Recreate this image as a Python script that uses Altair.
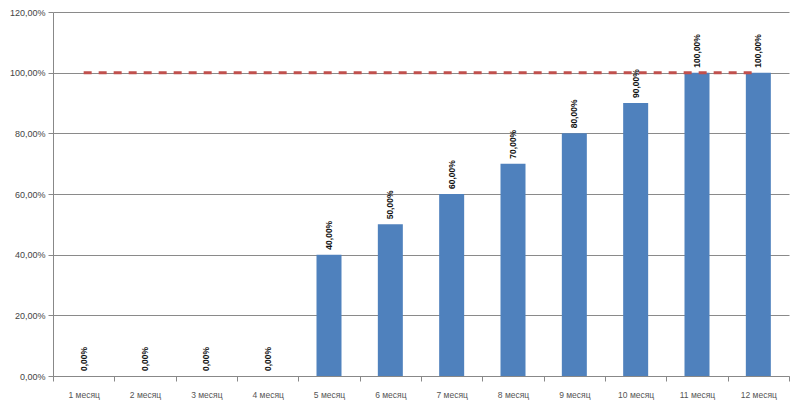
import altair as alt
import pandas as pd

months = ["1 месяц", "2 месяц", "3 месяц", "4 месяц", "5 месяц", "6 месяц",
          "7 месяц", "8 месяц", "9 месяц", "10 месяц", "11 месяц", "12 месяц"]
values = [0.0, 0.0, 0.0, 0.0, 0.40, 0.50, 0.60, 0.70, 0.80, 0.90, 1.00, 1.00]
target_ends = ["1 месяц", "12 месяц"]
target_value = 1.0
y_ticks = [0, 0.2, 0.4, 0.6, 0.8, 1.0, 1.2]

df = pd.DataFrame({"month": months, "value": values})
df_target = pd.DataFrame({"month": target_ends, "value": [target_value] * len(target_ends)})

FONT = "Liberation Sans"

x_enc = alt.X("month:N", sort=months, title=None,
              scale=alt.Scale(paddingInner=0, paddingOuter=0),
              axis=alt.Axis(labelAngle=0, tickBand="extent", labelFont=FONT,
                            labelFontSize=8.5, labelColor="#555555", labelPadding=9,
                            domainColor="#888888", tickColor="#888888", tickSize=5,
                            grid=False))
y_enc = alt.Y("value:Q", title=None,
              scale=alt.Scale(domain=[0, 1.2], nice=False),
              axis=alt.Axis(values=y_ticks,
                            labelExpr="replace(format(datum.value, '.2%'), '.', ',')",
                            labelFont=FONT, labelFontSize=9, labelColor="#444444",
                            labelPadding=3, domainColor="#888888", tickColor="#888888",
                            tickSize=5, gridColor="#8a8a8a", gridWidth=1))

bars = alt.Chart(df).mark_bar(size=25, color="#4F81BD").encode(x=x_enc, y=y_enc)

labels = alt.Chart(df).transform_calculate(
    lab="replace(format(datum.value, '.2%'), '.', ',')"
).mark_text(angle=270, align="left", baseline="middle", dx=5, fontSize=8.5,
            fontWeight="bold", font=FONT, color="#111111").encode(
    x=alt.X("month:N", sort=months), y="value:Q", text="lab:N")

target = alt.Chart(df_target).mark_line(color="#C0504D", strokeWidth=3,
                                         strokeDash=[8, 7]).encode(
    x=alt.X("month:N", sort=months), y="value:Q")

chart = alt.layer(bars, target, labels).properties(
    width=736, height=364,
    autosize=alt.AutoSizeParams(type="none"),
    padding={"left": 45, "top": 4, "right": 3, "bottom": 25},
    background="white",
).configure_view(strokeWidth=0)

chart.save("out.html", embed_options={"renderer": "svg", "actions": False})
